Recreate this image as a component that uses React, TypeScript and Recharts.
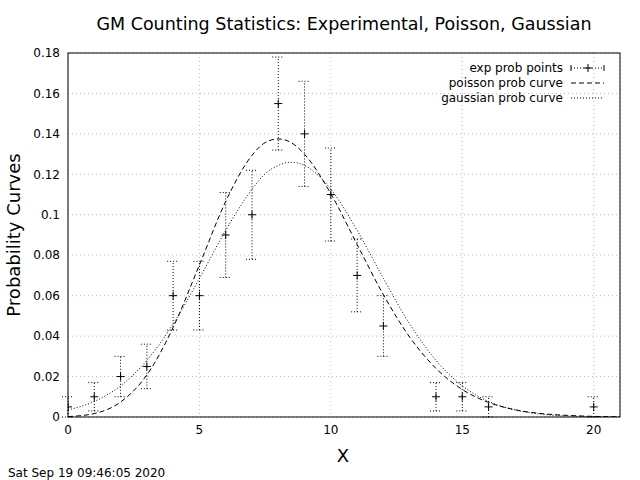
import React from "react";
import { ComposedChart, Line, Scatter, ErrorBar, XAxis, YAxis, CartesianGrid } from "recharts";

const xs = [0,1,2,3,4,5,6,7,7.5,8,8.5,9,10,11,12,13,14,15,16,17,18,19,20,21];
const poisson = [0.0002,0.0017,0.0074,0.0208,0.0443,0.0752,0.1066,0.1294,0.1357,0.1375,0.1356,0.1299,0.1104,0.0853,0.0604,0.0395,0.024,0.0136,0.0072,0.0036,0.0017,0.0008,0.0003,0.0001];
const gauss = [0.0035,0.0077,0.0154,0.028,0.046,0.0685,0.0923,0.1126,0.1203,0.1244,0.126,0.1244,0.1126,0.0923,0.0685,0.046,0.028,0.0154,0.0077,0.0035,0.0014,0.0005,0.0002,0.0001];
const expX = [0,1,2,3,4,5,6,7,8,9,10,11,12,14,15,16,20];
const expY = [0.005,0.01,0.02,0.025,0.06,0.06,0.09,0.1,0.155,0.14,0.11,0.07,0.045,0.01,0.01,0.005,0.005];
const expErr = [0.005,0.007,0.01,0.011,0.017,0.017,0.021,0.022,0.023,0.026,0.023,0.018,0.015,0.007,0.007,0.005,0.005];
const xTicks = [0,5,10,15,20];
const yTicks = [0,0.02,0.04,0.06,0.08,0.1,0.12,0.14,0.16,0.18];

const curveData = xs.map((x, i) => ({ x, poisson: poisson[i], gauss: gauss[i] }));
const expData = expX.map((x, i) => ({ x, y: expY[i], err: expErr[i] }));

const Plus = (p: any) => (
  <g stroke="#000" strokeWidth={1}>
    <line x1={p.cx - 4} x2={p.cx + 4} y1={p.cy} y2={p.cy} />
    <line x1={p.cx} x2={p.cx} y1={p.cy - 4} y2={p.cy + 4} />
  </g>
);

const font = "DejaVu Sans, sans-serif";

export default function App() {
  return (
    <div style={{ position: "absolute", left: 0, top: 0, width: 640, height: 480, background: "#fff", fontFamily: font }}>
      <ComposedChart width={640} height={480} data={curveData} margin={{ top: 53, right: 20, bottom: 43, left: 0 }}>
        <CartesianGrid stroke="#bbb" strokeDasharray="1 3" />
        <XAxis type="number" dataKey="x" domain={[0, 21]} ticks={xTicks} tickLine={false} axisLine={false} height={20}
          tick={{ fill: "#000", fontSize: 12, fontFamily: font }} allowDataOverflow />
        <YAxis type="number" domain={[0, 0.18]} ticks={yTicks} tickLine={false} axisLine={false} width={68}
          tick={{ fill: "#000", fontSize: 12, fontFamily: font }} allowDataOverflow />
        <Line type="monotone" dataKey="poisson" stroke="#000" strokeWidth={1} strokeDasharray="5 3" dot={false} isAnimationActive={false} />
        <Line type="monotone" dataKey="gauss" stroke="#000" strokeWidth={1} strokeDasharray="1 2" dot={false} isAnimationActive={false} />
        <Scatter data={expData} dataKey="y" shape={Plus} isAnimationActive={false}>
          <ErrorBar dataKey="err" direction="y" width={6} stroke="#000" strokeWidth={1} strokeDasharray="1 2" isAnimationActive={false} />
        </Scatter>
      </ComposedChart>
      <svg width={640} height={480} style={{ position: "absolute", left: 0, top: 0, pointerEvents: "none" }} fontFamily={font}>
        <rect x={68} y={53} width={552} height={364} fill="none" stroke="#000" />
        <text x={344} y={30} textAnchor="middle" fontSize={17.5}>GM Counting Statistics: Experimental, Poisson, Gaussian</text>
        <text x={343} y={462} textAnchor="middle" fontSize={18}>X</text>
        <text transform="translate(20,235) rotate(-90)" textAnchor="middle" fontSize={18}>Probability Curves</text>
        <text x={8} y={477} fontSize={12}>Sat Sep 19 09:46:05 2020</text>
        <g fontSize={12} textAnchor="end">
          <text x={563} y={72}>exp prob points</text>
          <text x={563} y={87}>poisson prob curve</text>
          <text x={563} y={102}>gaussian prob curve</text>
        </g>
        <g stroke="#000" strokeWidth={1}>
          <line x1={571} x2={604} y1={68} y2={68} strokeDasharray="1 2" />
          <line x1={571} x2={571} y1={65} y2={71} />
          <line x1={604} x2={604} y1={65} y2={71} />
          <line x1={584} x2={592} y1={68} y2={68} />
          <line x1={588} x2={588} y1={64} y2={72} />
          <line x1={571} x2={604} y1={83} y2={83} strokeDasharray="5 3" />
          <line x1={571} x2={604} y1={98} y2={98} strokeDasharray="1 2" />
        </g>
      </svg>
    </div>
  );
}
